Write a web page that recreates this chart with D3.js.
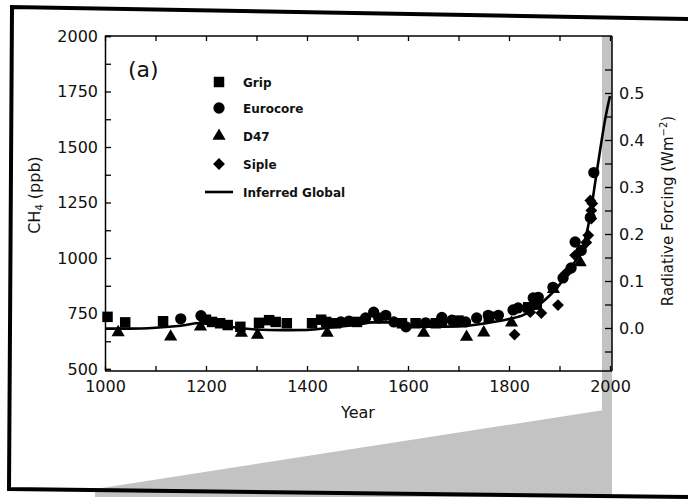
<!DOCTYPE html>
<html><head><meta charset="utf-8">
<script src="https://cdn.jsdelivr.net/npm/d3@7"></script>
<style>body{margin:0;background:#fff}svg{display:block}text{font-family:"DejaVu Sans",sans-serif;fill:#111}</style>
</head><body><svg id="c" width="688" height="499"></svg>
<script>
// Data (year, CH4 ppb)
const gripYears   = [1005,1040,1115,1200,1212,1228,1243,1268,1305,1325,1338,1360,1410,1428,1438,1457,1499,1588,1615,1655,1667,1700,1760,1838,1855];
const gripValues  = [735,710,715,722,712,706,698,690,708,720,712,706,706,722,712,706,712,706,706,706,712,718,735,778,790];
const euroYears   = [1150,1190,1467,1483,1516,1532,1542,1556,1572,1596,1635,1667,1687,1714,1736,1759,1779,1808,1818,1848,1858,1887,1907,1923,1931,1943,1961,1968];
const euroValues  = [726,740,712,716,730,756,730,742,712,690,708,732,720,712,730,742,742,766,775,820,823,868,910,955,1072,1034,1182,1385];
const d47Years    = [1026,1130,1189,1270,1302,1440,1631,1716,1750,1805,1888,1941];
const d47Values   = [665,645,690,662,653,662,662,644,664,708,860,980];
const sipleYears  = [1811,1842,1864,1897,1913,1931,1953,1957,1961,1963,1963,1965];
const sipleValues = [655,756,752,788,932,1012,1070,1102,1259,1214,1178,1245];
const globalYears  = [1000,1050,1100,1150,1190,1220,1250,1300,1350,1400,1450,1500,1530,1560,1600,1650,1700,1750,1800,1830,1860,1880,1900,1920,1940,1950,1960,1970,1980,1990,2000];
const globalValues = [682,682,686,695,707,700,689,678,675,676,688,700,710,710,692,690,692,705,725,745,790,830,880,950,1020,1080,1180,1330,1480,1620,1730];
const xTicks = [1000,1200,1400,1600,1800,2000];
const yTicks = [500,750,1000,1250,1500,1750,2000];
const rTicks = [0.0,0.1,0.2,0.3,0.4,0.5];
const legendLabels = ["Grip","Eurocore","D47","Siple","Inferred Global"];

const svg = d3.select("#c");
const x = d3.scaleLinear().domain([1000,2000]).range([105,610]);
const y = d3.scaleLinear().domain([500,2000]).range([369,36]);
const yr = d3.scaleLinear().domain([0,0.5]).range([328,93]);
const grey = "#c3c3c3";

// grey decorations (scan artefacts)
svg.append("polygon").attr("points","95,489 604,410 604,497 95,497").attr("fill",grey);
svg.append("rect").attr("x",602).attr("y",36).attr("width",10).attr("height",462).attr("fill",grey);

// frame of the scanned page
const border = svg.append("g").attr("stroke","#000").attr("stroke-width",4).attr("fill","none");
border.append("path").attr("d","M688,19 L12,7 L9,489 L688,497");

// axes
const g = svg.append("g");
g.append("g").attr("transform","translate(0,371)")
  .call(d3.axisBottom(x).tickValues(d3.range(1000,2001,100)).tickSize(-5).tickFormat(d=> xTicks.includes(d)? d : ""))
  .call(a=>{a.select(".domain").attr("d","M105,0H612").attr("stroke-width",1.5);a.selectAll("text").attr("dy","1.1em").style("font-size","16px");a.selectAll(".tick line").attr("stroke-width",1.3);});
g.append("g").attr("transform","translate(0,36)")
  .call(d3.axisTop(x).tickValues(d3.range(1000,2001,100)).tickSize(-5).tickFormat(""))
  .call(a=>{a.select(".domain").attr("d","M105,0H612").attr("stroke-width",1.3);a.selectAll(".tick line").attr("stroke-width",1.3);});
g.append("g").attr("transform","translate(105,0)")
  .call(d3.axisLeft(y).tickValues(d3.range(500,2001,125)).tickSize(-6).tickPadding(5).tickFormat(d=> yTicks.includes(d)? d : ""))
  .call(a=>{a.select(".domain").attr("stroke-width",1.5);a.selectAll("text").attr("x",-7).style("font-size","16px");a.selectAll(".tick line").attr("stroke-width",1.3);});
g.append("g").attr("transform","translate(612,0)")
  .call(d3.axisRight(yr).tickValues(d3.range(-0.05,0.56,0.05).map(v=>+v.toFixed(2))).tickSize(-7).tickFormat(d=> rTicks.includes(d)? d.toFixed(1) : ""))
  .call(a=>{a.select(".domain").attr("d","M0,36V371").attr("stroke-width",1.5);a.selectAll("text").attr("x",7).style("font-size","16px");a.selectAll(".tick line").attr("stroke-width",1.3);});
g.selectAll(".tick text").attr("fill","#111");

// titles
svg.append("text").attr("x",358).attr("y",418).attr("text-anchor","middle").style("font-size","16px").text("Year");
svg.append("text").attr("transform","translate(40,195) rotate(-90)").attr("text-anchor","middle").style("font-size","16px")
  .html('CH<tspan font-size="10" dy="3">4</tspan><tspan dy="-3"> (ppb)</tspan>');
svg.append("text").attr("transform","translate(673,211) rotate(-90)").attr("text-anchor","middle").style("font-size","15px")
  .html('Radiative Forcing (Wm<tspan font-size="10" dy="-6">−2</tspan><tspan dy="6">)</tspan>');
svg.append("text").attr("x",128).attr("y",77).style("font-size","22px").text("(a)");

// curve
const line = d3.line().x(d=>x(d[0])).y(d=>y(d[1])).curve(d3.curveMonotoneX);
svg.append("path").datum(d3.zip(globalYears,globalValues)).attr("d",line).attr("fill","none").attr("stroke","#000").attr("stroke-width",2.6);

// markers
const series = [
  {ys:gripYears, vs:gripValues, s:d3.symbolSquare, size:110, rot:0},
  {ys:euroYears, vs:euroValues, s:d3.symbolCircle, size:100, rot:0},
  {ys:d47Years, vs:d47Values, s:d3.symbolTriangle, size:75, rot:0},
  {ys:sipleYears, vs:sipleValues, s:d3.symbolSquare, size:70, rot:45}
];
series.forEach(sr=>{
  svg.append("g").selectAll("path").data(d3.zip(sr.ys,sr.vs)).join("path")
    .attr("transform",d=>`translate(${x(d[0])},${y(d[1])}) rotate(${sr.rot})`)
    .attr("d",d3.symbol().type(sr.s).size(sr.size)).attr("fill","#000");
});

// legend
const lg = svg.append("g");
const ly = [82,108,136,164];
series.forEach((sr,i)=>{
  lg.append("path").attr("transform",`translate(219,${ly[i]}) rotate(${sr.rot})`).attr("d",d3.symbol().type(sr.s).size(sr.size)).attr("fill","#000");
  lg.append("text").attr("x",243).attr("y",ly[i]+5).style("font-size","12px").style("font-weight","bold").text(legendLabels[i]);
});
lg.append("line").attr("x1",205).attr("x2",233).attr("y1",192).attr("y2",192).attr("stroke","#000").attr("stroke-width",2.6);
lg.append("text").attr("x",243).attr("y",197).style("font-size","12px").style("font-weight","bold").text(legendLabels[4]);
</script></body></html>
